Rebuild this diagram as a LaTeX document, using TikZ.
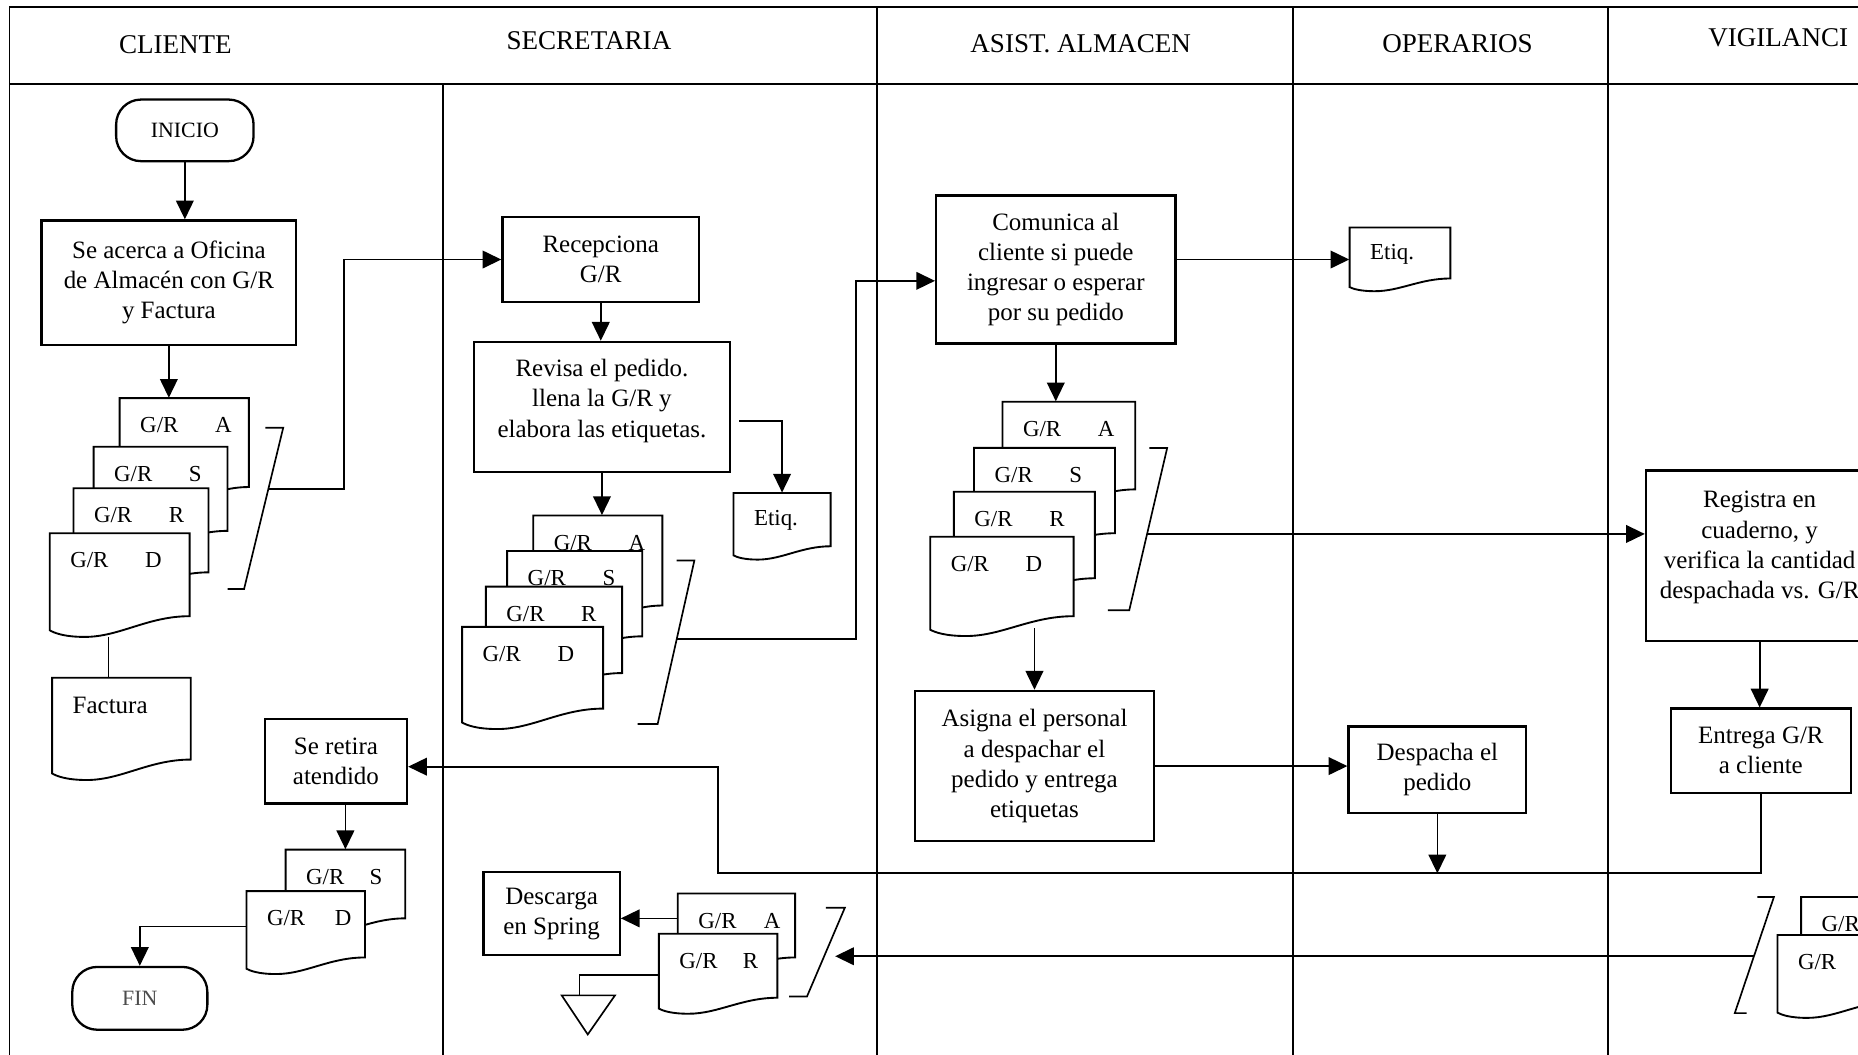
\documentclass[tikz,border=0pt]{standalone}
\usepackage{fontspec}
\setmainfont{Liberation Serif}
\usetikzlibrary{arrows.meta,calc,fit}

% document symbol: name, left, top, right, bottom (right side), label
\newcommand{\gdoc}[6]{%
  \draw[docline] (#2,#3) -- (#4,#3) -- (#4,#5)
    .. controls ({#4-0.3*(#4-#2)},#5) and ({#2+0.5*(#4-#2)},{#5+0.25*(#5-#3)})
    .. ({#2+0.25*(#4-#2)},{#5+0.25*(#5-#3)})
    .. controls ({#2+0.1*(#4-#2)},{#5+0.25*(#5-#3)}) and ({#2+0.03*(#4-#2)},{#5+0.2*(#5-#3)})
    .. (#2,{#5+0.17*(#5-#3)}) -- cycle;
  \node[docfit, fit={(#2,#3) (#4,#5)}] (#1) {};
  \node[doctext] (#1-lbl) at ({#2+17},{#3+23}) {#6};
}

\begin{document}
\begin{tikzpicture}[x=0.02cm, y=-0.02cm,
    lane/.style={line width=0.9pt},
    lanehead/.style={font=\fontsize{13}{15}\selectfont, inner sep=0pt},
    proc/.style={draw, fill=white, line width=1.1pt, align=center, inner sep=2pt, font=\fontsize{12}{14.5}\selectfont},
    termbox/.style={draw, fill=white, line width=1.1pt, rounded corners=0.42cm, font=\fontsize{10.5}{12}\selectfont},
    docline/.style={fill=white, line width=0.9pt},
    docfit/.style={inner sep=0pt},
    doctext/.style={anchor=west, inner sep=0pt, font=\fontsize{11}{13}\selectfont},
    conn/.style={line width=0.8pt},
    arr/.style={conn, -{Triangle[length=9pt, width=8.5pt]}}
  ]
  \useasboundingbox (0,0) rectangle (1568,890);
  \clip (0,0) rectangle (1568,890);
  \fill[white] (0,0) rectangle (1568,890);

  % lanes
  \draw[lane] (8,6) -- (1568,6);
  \draw[lane, line width=1.3pt] (8,71) -- (1568,71);
  \draw[lane] (8,6) -- (8,890);
  \draw[lane] (374,71) -- (374,890);
  \draw[lane] (740,6) -- (740,890);
  \draw[lane] (1091,6) -- (1091,890);
  \draw[lane] (1357,6) -- (1357,890);

  \node[lanehead] (hcli) at (148,38) {CLIENTE};
  \node[lanehead] (hsec) at (497,34) {SECRETARIA};
  \node[lanehead] (hasi) at (912,37) {ASIST. ALMACEN};
  \node[lanehead] (hope) at (1230,37) {OPERARIOS};
  \node[lanehead, anchor=east] (hvig) at (1560,32) {VIGILANCI};

  % Cliente
  \node[termbox, minimum width=2.32cm, minimum height=1.04cm] (inicio) at (156,110) {INICIO};
  \node[proc, minimum width=4.3cm, minimum height=2.1cm] (acerca) at (142.5,238.5)
    {Se acerca a Oficina\\de Almacén con G/R\\y Factura};
  \gdoc{c1A}{101}{336}{210}{411}{G/R\hspace{1.6em}A}
  \gdoc{c1S}{79}{377}{192}{448}{G/R\hspace{1.6em}S}
  \gdoc{c1R}{62}{412}{176}{483}{G/R\hspace{1.6em}R}
  \gdoc{c1D}{42}{450}{160}{520}{G/R\hspace{1.6em}D}
  \gdoc{factura}{44}{572}{161}{641}{\fontsize{12}{14}\selectfont Factura}
  \node[proc, minimum width=2.4cm, minimum height=1.42cm] (retira) at (283.5,642.5) {Se retira\\atendido};
  \gdoc{c2S}{241}{717}{342}{775}{G/R\hspace{1.1em}S}
  \gdoc{c2D}{208}{752}{308}{808}{G/R\hspace{1.3em}D}
  \node[termbox, minimum width=2.28cm, minimum height=1.06cm, text=black!70] (fin) at (118,842.5) {FIN};

  % Secretaria
  \node[proc, minimum width=3.32cm, minimum height=1.44cm] (recep) at (507,219) {Recepciona\\G/R};
  \node[proc, minimum width=4.32cm, minimum height=2.2cm] (revisa) at (508,343.5)
    {Revisa el pedido.\\llena la G/R y\\elabora las etiquetas.\\[-6pt]\mbox{}};
  \gdoc{etiq1}{619}{416}{701}{461}{Etiq.}
  \gdoc{s1A}{450}{435}{559}{511}{G/R\hspace{1.6em}A}
  \gdoc{s1S}{428}{465}{542}{537}{G/R\hspace{1.6em}S}
  \gdoc{s1R}{410}{495}{525}{568}{G/R\hspace{1.6em}R}
  \gdoc{s1D}{390}{529}{509}{598}{G/R\hspace{1.6em}D}
  \node[proc, minimum width=2.3cm, minimum height=1.4cm] (descarga) at (465.5,771) {Descarga\\en Spring};
  \gdoc{s2A}{572}{754}{671}{808}{G/R\hspace{1.2em}A}
  \gdoc{s2R}{556}{788}{656}{842}{G/R\hspace{1.1em}R}
  \draw[conn] (474,840) -- (519,840) -- (496,873) -- cycle;
  \coordinate (store) at (489,840);

  % Asist. Almacen
  \node[proc, minimum width=4.04cm, minimum height=2.5cm] (comunica) at (891,227.5)
    {Comunica al\\cliente si puede\\ingresar o esperar\\por su pedido};
  \gdoc{etiq2}{1139}{192}{1224}{235}{Etiq.}
  \gdoc{a1A}{846}{339}{958}{413}{G/R\hspace{1.6em}A}
  \gdoc{a1S}{822}{378}{941}{450}{G/R\hspace{1.6em}S}
  \gdoc{a1R}{805}{415}{924}{488}{G/R\hspace{1.6em}R}
  \gdoc{a1D}{785}{453}{906}{520}{G/R\hspace{1.6em}D}
  \node[proc, minimum width=4.04cm, minimum height=2.54cm] (asigna) at (873,646.5)
    {Asigna el personal\\a despachar el\\pedido y entrega\\etiquetas};

  % Operarios
  \node[proc, minimum width=3.0cm, minimum height=1.46cm] (despacha) at (1213,649.5) {Despacha el\\pedido};

  % Vigilancia
  \node[proc, minimum width=3.84cm, minimum height=2.88cm] (registra) at (1485,469)
    {Registra en\\cuaderno, y\\verifica la cantidad\\despachada vs. G/R\\[-4pt]\mbox{}};
  \node[proc, minimum width=3.04cm, minimum height=1.42cm] (entrega) at (1486,633.5) {Entrega G/R\\a cliente};
  \gdoc{v1A}{1520}{757}{1620}{811}{G/R}
  \gdoc{v1B}{1500}{789}{1600}{845}{G/R}

  % archive brackets
  \draw[conn] (224,361) -- (239,361) -- coordinate[pos=0.38] (arch1) (206,497) -- (192,497);
  \draw[conn] (571,473) -- (586,473) -- coordinate[pos=0.48] (arch3) (555,611) -- (538,611);
  \draw[conn] (970,378) -- (985,378) -- coordinate[pos=0.53] (arch5) (953,515) -- (935,515);
  \draw[conn] (697,766) -- (713,766) -- coordinate[pos=0.53] (arch4) (681,841) -- (666,841);
  \draw[conn] (1483,757) -- (1497,757) -- coordinate[pos=0.51] (arch6) (1464,855) -- (1474,855);

  % flow
  \draw[arr] (inicio.south) -- (inicio.south |- acerca.north);
  \draw[arr] (acerca.south) -- (acerca.south |- c1A.north);
  \draw[conn] ($(c1D.south west)+(50,17)$) -- ($(factura.north west)+(48,0)$);
  \draw[arr] (arch1) -- ++(64,0) |- (recep.west);
  \draw[arr] (recep.south) -- (recep.south |- revisa.north);
  \draw[arr] ($(revisa.east)+(7,11.5)$) -| (etiq1.north);
  \draw[arr] (revisa.south) -- (revisa.south |- s1A.north);
  \draw[arr] (arch3) -- ++(151,0) |- (comunica.west |- 0,237);
  \draw[arr] (comunica.east |- 0,219) -- (etiq2.west |- 0,219);
  \draw[arr] (comunica.south) -- (comunica.south |- a1A.north);
  \draw[arr] (arch5) -- (registra.west |- arch5);
  \draw[arr] ($(asigna.north |- a1D.south)+(0,10)$) -- (asigna.north);
  \draw[arr] (asigna.east) -- (despacha.west |- asigna.east);
  \draw[arr] (registra.south) -- (registra.south |- entrega.north);
  \coordinate (loop) at (606,737);
  \draw[arr] (entrega.south) |- (loop) |- (retira.east |- 0,647);
  \draw[arr] (despacha.south) -- (despacha.south |- loop);
  \draw[arr] (c2S.north |- retira.south) -- (c2S.north);
  \draw[arr] (c2D.west |- 0,782) -| (fin.north);
  \draw[arr, shorten >=5pt] (arch6) -- (arch6 -| arch4);
  \draw[arr] (s2A.west |- 0,775) -- (descarga.east |- 0,775);
  \draw[conn] (s2R.west |- 0,823) -| (store);
\end{tikzpicture}
\end{document}
